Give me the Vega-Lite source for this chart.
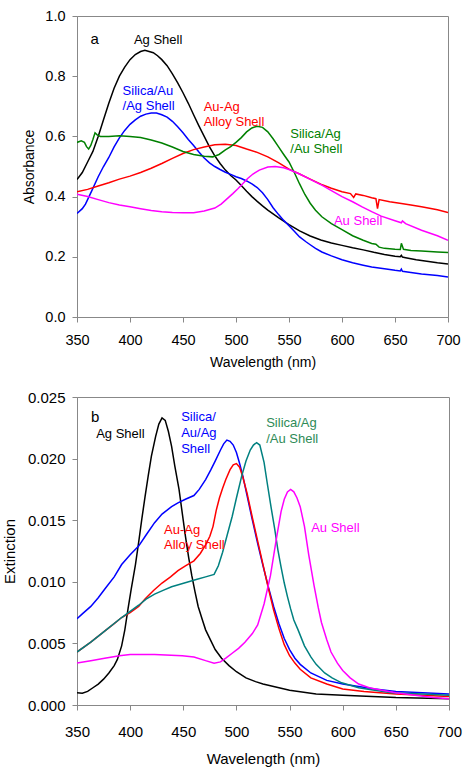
{
"$schema": "https://vega.github.io/schema/vega-lite/v6.json",
"background": "white",
"padding": {"left": 1, "top": 7, "right": 5, "bottom": 0},
"spacing": 19,
"config": {
  "font": "Liberation Sans",
  "view": {"stroke": "#888888", "strokeWidth": 1},
  "axis": {"domainColor": "#888888", "tickColor": "#888888", "grid": false, "labelColor": "#000000", "titleColor": "#000000", "titleFontWeight": "normal", "tickSize": 5, "labelFont": "Liberation Sans", "titleFont": "Liberation Sans", "labelFlush": false, "labelOverlap": false}
},
"resolve": {"scale": {"color": "independent"}},
"datasets": {
"a": [
{"s":"Ag Shell","wl":350,"v":0.457},{"s":"Ag Shell","wl":355,"v":0.48},{"s":"Ag Shell","wl":360,"v":0.515},{"s":"Ag Shell","wl":365,"v":0.55},{"s":"Ag Shell","wl":370,"v":0.6},{"s":"Ag Shell","wl":375,"v":0.655},{"s":"Ag Shell","wl":380,"v":0.71},{"s":"Ag Shell","wl":385,"v":0.76},{"s":"Ag Shell","wl":390,"v":0.8},{"s":"Ag Shell","wl":395,"v":0.83},{"s":"Ag Shell","wl":400,"v":0.855},{"s":"Ag Shell","wl":405,"v":0.872},{"s":"Ag Shell","wl":410,"v":0.882},{"s":"Ag Shell","wl":414,"v":0.886},{"s":"Ag Shell","wl":418,"v":0.882},{"s":"Ag Shell","wl":422,"v":0.878},{"s":"Ag Shell","wl":426,"v":0.868},{"s":"Ag Shell","wl":430,"v":0.855},{"s":"Ag Shell","wl":435,"v":0.835},{"s":"Ag Shell","wl":440,"v":0.808},{"s":"Ag Shell","wl":445,"v":0.778},{"s":"Ag Shell","wl":450,"v":0.745},{"s":"Ag Shell","wl":455,"v":0.71},{"s":"Ag Shell","wl":460,"v":0.672},{"s":"Ag Shell","wl":465,"v":0.635},{"s":"Ag Shell","wl":470,"v":0.6},{"s":"Ag Shell","wl":475,"v":0.565},{"s":"Ag Shell","wl":480,"v":0.535},{"s":"Ag Shell","wl":485,"v":0.51},{"s":"Ag Shell","wl":490,"v":0.488},{"s":"Ag Shell","wl":495,"v":0.47},{"s":"Ag Shell","wl":500,"v":0.455},{"s":"Ag Shell","wl":505,"v":0.437},{"s":"Ag Shell","wl":510,"v":0.418},{"s":"Ag Shell","wl":515,"v":0.4},{"s":"Ag Shell","wl":520,"v":0.384},{"s":"Ag Shell","wl":525,"v":0.369},{"s":"Ag Shell","wl":530,"v":0.355},{"s":"Ag Shell","wl":540,"v":0.33},{"s":"Ag Shell","wl":550,"v":0.307},{"s":"Ag Shell","wl":560,"v":0.286},{"s":"Ag Shell","wl":570,"v":0.269},{"s":"Ag Shell","wl":580,"v":0.256},{"s":"Ag Shell","wl":590,"v":0.246},{"s":"Ag Shell","wl":600,"v":0.238},{"s":"Ag Shell","wl":610,"v":0.23},{"s":"Ag Shell","wl":620,"v":0.223},{"s":"Ag Shell","wl":630,"v":0.215},{"s":"Ag Shell","wl":640,"v":0.208},{"s":"Ag Shell","wl":650,"v":0.202},{"s":"Ag Shell","wl":655,"v":0.2},{"s":"Ag Shell","wl":656,"v":0.205},{"s":"Ag Shell","wl":657,"v":0.199},{"s":"Ag Shell","wl":660,"v":0.197},{"s":"Ag Shell","wl":670,"v":0.19},{"s":"Ag Shell","wl":680,"v":0.185},{"s":"Ag Shell","wl":690,"v":0.18},{"s":"Ag Shell","wl":700,"v":0.176},
{"s":"Silica/Au/Ag Shell","wl":350,"v":0.344},{"s":"Silica/Au/Ag Shell","wl":355,"v":0.36},{"s":"Silica/Au/Ag Shell","wl":358,"v":0.375},{"s":"Silica/Au/Ag Shell","wl":360,"v":0.39},{"s":"Silica/Au/Ag Shell","wl":364,"v":0.42},{"s":"Silica/Au/Ag Shell","wl":370,"v":0.466},{"s":"Silica/Au/Ag Shell","wl":375,"v":0.5},{"s":"Silica/Au/Ag Shell","wl":380,"v":0.53},{"s":"Silica/Au/Ag Shell","wl":385,"v":0.565},{"s":"Silica/Au/Ag Shell","wl":390,"v":0.595},{"s":"Silica/Au/Ag Shell","wl":395,"v":0.62},{"s":"Silica/Au/Ag Shell","wl":400,"v":0.64},{"s":"Silica/Au/Ag Shell","wl":405,"v":0.655},{"s":"Silica/Au/Ag Shell","wl":410,"v":0.667},{"s":"Silica/Au/Ag Shell","wl":415,"v":0.674},{"s":"Silica/Au/Ag Shell","wl":420,"v":0.678},{"s":"Silica/Au/Ag Shell","wl":425,"v":0.678},{"s":"Silica/Au/Ag Shell","wl":430,"v":0.672},{"s":"Silica/Au/Ag Shell","wl":435,"v":0.664},{"s":"Silica/Au/Ag Shell","wl":440,"v":0.65},{"s":"Silica/Au/Ag Shell","wl":445,"v":0.632},{"s":"Silica/Au/Ag Shell","wl":450,"v":0.612},{"s":"Silica/Au/Ag Shell","wl":455,"v":0.59},{"s":"Silica/Au/Ag Shell","wl":460,"v":0.57},{"s":"Silica/Au/Ag Shell","wl":465,"v":0.548},{"s":"Silica/Au/Ag Shell","wl":470,"v":0.528},{"s":"Silica/Au/Ag Shell","wl":475,"v":0.512},{"s":"Silica/Au/Ag Shell","wl":480,"v":0.5},{"s":"Silica/Au/Ag Shell","wl":485,"v":0.49},{"s":"Silica/Au/Ag Shell","wl":490,"v":0.481},{"s":"Silica/Au/Ag Shell","wl":495,"v":0.474},{"s":"Silica/Au/Ag Shell","wl":500,"v":0.466},{"s":"Silica/Au/Ag Shell","wl":505,"v":0.46},{"s":"Silica/Au/Ag Shell","wl":510,"v":0.452},{"s":"Silica/Au/Ag Shell","wl":515,"v":0.442},{"s":"Silica/Au/Ag Shell","wl":520,"v":0.43},{"s":"Silica/Au/Ag Shell","wl":525,"v":0.413},{"s":"Silica/Au/Ag Shell","wl":530,"v":0.39},{"s":"Silica/Au/Ag Shell","wl":535,"v":0.363},{"s":"Silica/Au/Ag Shell","wl":540,"v":0.341},{"s":"Silica/Au/Ag Shell","wl":545,"v":0.321},{"s":"Silica/Au/Ag Shell","wl":550,"v":0.303},{"s":"Silica/Au/Ag Shell","wl":555,"v":0.285},{"s":"Silica/Au/Ag Shell","wl":560,"v":0.266},{"s":"Silica/Au/Ag Shell","wl":566,"v":0.25},{"s":"Silica/Au/Ag Shell","wl":570,"v":0.24},{"s":"Silica/Au/Ag Shell","wl":575,"v":0.228},{"s":"Silica/Au/Ag Shell","wl":581,"v":0.216},{"s":"Silica/Au/Ag Shell","wl":590,"v":0.203},{"s":"Silica/Au/Ag Shell","wl":600,"v":0.19},{"s":"Silica/Au/Ag Shell","wl":610,"v":0.18},{"s":"Silica/Au/Ag Shell","wl":620,"v":0.172},{"s":"Silica/Au/Ag Shell","wl":628,"v":0.166},{"s":"Silica/Au/Ag Shell","wl":640,"v":0.16},{"s":"Silica/Au/Ag Shell","wl":650,"v":0.155},{"s":"Silica/Au/Ag Shell","wl":655,"v":0.153},{"s":"Silica/Au/Ag Shell","wl":656,"v":0.159},{"s":"Silica/Au/Ag Shell","wl":657,"v":0.152},{"s":"Silica/Au/Ag Shell","wl":665,"v":0.148},{"s":"Silica/Au/Ag Shell","wl":675,"v":0.143},{"s":"Silica/Au/Ag Shell","wl":690,"v":0.138},{"s":"Silica/Au/Ag Shell","wl":700,"v":0.133},
{"s":"Au-Ag Alloy Shell","wl":350,"v":0.416},{"s":"Au-Ag Alloy Shell","wl":360,"v":0.424},{"s":"Au-Ag Alloy Shell","wl":370,"v":0.435},{"s":"Au-Ag Alloy Shell","wl":380,"v":0.446},{"s":"Au-Ag Alloy Shell","wl":390,"v":0.458},{"s":"Au-Ag Alloy Shell","wl":400,"v":0.468},{"s":"Au-Ag Alloy Shell","wl":410,"v":0.48},{"s":"Au-Ag Alloy Shell","wl":420,"v":0.494},{"s":"Au-Ag Alloy Shell","wl":430,"v":0.51},{"s":"Au-Ag Alloy Shell","wl":440,"v":0.527},{"s":"Au-Ag Alloy Shell","wl":450,"v":0.543},{"s":"Au-Ag Alloy Shell","wl":460,"v":0.556},{"s":"Au-Ag Alloy Shell","wl":470,"v":0.565},{"s":"Au-Ag Alloy Shell","wl":480,"v":0.572},{"s":"Au-Ag Alloy Shell","wl":490,"v":0.574},{"s":"Au-Ag Alloy Shell","wl":500,"v":0.57},{"s":"Au-Ag Alloy Shell","wl":510,"v":0.558},{"s":"Au-Ag Alloy Shell","wl":520,"v":0.547},{"s":"Au-Ag Alloy Shell","wl":530,"v":0.532},{"s":"Au-Ag Alloy Shell","wl":540,"v":0.513},{"s":"Au-Ag Alloy Shell","wl":550,"v":0.491},{"s":"Au-Ag Alloy Shell","wl":560,"v":0.475},{"s":"Au-Ag Alloy Shell","wl":570,"v":0.458},{"s":"Au-Ag Alloy Shell","wl":580,"v":0.441},{"s":"Au-Ag Alloy Shell","wl":590,"v":0.428},{"s":"Au-Ag Alloy Shell","wl":600,"v":0.416},{"s":"Au-Ag Alloy Shell","wl":608,"v":0.41},{"s":"Au-Ag Alloy Shell","wl":611,"v":0.397},{"s":"Au-Ag Alloy Shell","wl":613,"v":0.409},{"s":"Au-Ag Alloy Shell","wl":620,"v":0.404},{"s":"Au-Ag Alloy Shell","wl":628,"v":0.396},{"s":"Au-Ag Alloy Shell","wl":632,"v":0.393},{"s":"Au-Ag Alloy Shell","wl":633.5,"v":0.36},{"s":"Au-Ag Alloy Shell","wl":635,"v":0.39},{"s":"Au-Ag Alloy Shell","wl":645,"v":0.383},{"s":"Au-Ag Alloy Shell","wl":656,"v":0.377},{"s":"Au-Ag Alloy Shell","wl":665,"v":0.372},{"s":"Au-Ag Alloy Shell","wl":675,"v":0.366},{"s":"Au-Ag Alloy Shell","wl":690,"v":0.356},{"s":"Au-Ag Alloy Shell","wl":700,"v":0.347},
{"s":"Silica/Ag/Au Shell","wl":350,"v":0.58},{"s":"Silica/Ag/Au Shell","wl":354,"v":0.585},{"s":"Silica/Ag/Au Shell","wl":357,"v":0.58},{"s":"Silica/Ag/Au Shell","wl":359,"v":0.566},{"s":"Silica/Ag/Au Shell","wl":361,"v":0.558},{"s":"Silica/Ag/Au Shell","wl":363,"v":0.57},{"s":"Silica/Ag/Au Shell","wl":365,"v":0.59},{"s":"Silica/Ag/Au Shell","wl":367,"v":0.612},{"s":"Silica/Ag/Au Shell","wl":369,"v":0.605},{"s":"Silica/Ag/Au Shell","wl":372,"v":0.6},{"s":"Silica/Ag/Au Shell","wl":380,"v":0.6},{"s":"Silica/Ag/Au Shell","wl":390,"v":0.602},{"s":"Silica/Ag/Au Shell","wl":400,"v":0.6},{"s":"Silica/Ag/Au Shell","wl":410,"v":0.596},{"s":"Silica/Ag/Au Shell","wl":420,"v":0.588},{"s":"Silica/Ag/Au Shell","wl":430,"v":0.578},{"s":"Silica/Ag/Au Shell","wl":440,"v":0.565},{"s":"Silica/Ag/Au Shell","wl":450,"v":0.55},{"s":"Silica/Ag/Au Shell","wl":460,"v":0.54},{"s":"Silica/Ag/Au Shell","wl":470,"v":0.534},{"s":"Silica/Ag/Au Shell","wl":478,"v":0.532},{"s":"Silica/Ag/Au Shell","wl":484,"v":0.54},{"s":"Silica/Ag/Au Shell","wl":490,"v":0.555},{"s":"Silica/Ag/Au Shell","wl":495,"v":0.566},{"s":"Silica/Ag/Au Shell","wl":500,"v":0.58},{"s":"Silica/Ag/Au Shell","wl":505,"v":0.596},{"s":"Silica/Ag/Au Shell","wl":510,"v":0.615},{"s":"Silica/Ag/Au Shell","wl":515,"v":0.628},{"s":"Silica/Ag/Au Shell","wl":520,"v":0.634},{"s":"Silica/Ag/Au Shell","wl":525,"v":0.63},{"s":"Silica/Ag/Au Shell","wl":530,"v":0.615},{"s":"Silica/Ag/Au Shell","wl":535,"v":0.592},{"s":"Silica/Ag/Au Shell","wl":540,"v":0.566},{"s":"Silica/Ag/Au Shell","wl":545,"v":0.54},{"s":"Silica/Ag/Au Shell","wl":550,"v":0.515},{"s":"Silica/Ag/Au Shell","wl":555,"v":0.48},{"s":"Silica/Ag/Au Shell","wl":560,"v":0.442},{"s":"Silica/Ag/Au Shell","wl":565,"v":0.407},{"s":"Silica/Ag/Au Shell","wl":570,"v":0.378},{"s":"Silica/Ag/Au Shell","wl":575,"v":0.355},{"s":"Silica/Ag/Au Shell","wl":581,"v":0.333},{"s":"Silica/Ag/Au Shell","wl":590,"v":0.31},{"s":"Silica/Ag/Au Shell","wl":600,"v":0.29},{"s":"Silica/Ag/Au Shell","wl":610,"v":0.27},{"s":"Silica/Ag/Au Shell","wl":620,"v":0.255},{"s":"Silica/Ag/Au Shell","wl":628,"v":0.244},{"s":"Silica/Ag/Au Shell","wl":632,"v":0.242},{"s":"Silica/Ag/Au Shell","wl":635,"v":0.232},{"s":"Silica/Ag/Au Shell","wl":640,"v":0.228},{"s":"Silica/Ag/Au Shell","wl":650,"v":0.225},{"s":"Silica/Ag/Au Shell","wl":655,"v":0.224},{"s":"Silica/Ag/Au Shell","wl":656,"v":0.245},{"s":"Silica/Ag/Au Shell","wl":658,"v":0.225},{"s":"Silica/Ag/Au Shell","wl":665,"v":0.221},{"s":"Silica/Ag/Au Shell","wl":675,"v":0.219},{"s":"Silica/Ag/Au Shell","wl":690,"v":0.216},{"s":"Silica/Ag/Au Shell","wl":700,"v":0.214},
{"s":"Au Shell","wl":350,"v":0.408},{"s":"Au Shell","wl":360,"v":0.4},{"s":"Au Shell","wl":370,"v":0.39},{"s":"Au Shell","wl":380,"v":0.38},{"s":"Au Shell","wl":390,"v":0.372},{"s":"Au Shell","wl":400,"v":0.366},{"s":"Au Shell","wl":410,"v":0.36},{"s":"Au Shell","wl":420,"v":0.354},{"s":"Au Shell","wl":430,"v":0.35},{"s":"Au Shell","wl":440,"v":0.347},{"s":"Au Shell","wl":450,"v":0.346},{"s":"Au Shell","wl":460,"v":0.346},{"s":"Au Shell","wl":470,"v":0.352},{"s":"Au Shell","wl":480,"v":0.362},{"s":"Au Shell","wl":486,"v":0.375},{"s":"Au Shell","wl":492,"v":0.394},{"s":"Au Shell","wl":497,"v":0.41},{"s":"Au Shell","wl":502,"v":0.427},{"s":"Au Shell","wl":507,"v":0.445},{"s":"Au Shell","wl":511,"v":0.46},{"s":"Au Shell","wl":516,"v":0.475},{"s":"Au Shell","wl":522,"v":0.488},{"s":"Au Shell","wl":530,"v":0.498},{"s":"Au Shell","wl":537,"v":0.5},{"s":"Au Shell","wl":545,"v":0.496},{"s":"Au Shell","wl":550,"v":0.49},{"s":"Au Shell","wl":560,"v":0.475},{"s":"Au Shell","wl":570,"v":0.457},{"s":"Au Shell","wl":581,"v":0.438},{"s":"Au Shell","wl":590,"v":0.42},{"s":"Au Shell","wl":600,"v":0.4},{"s":"Au Shell","wl":610,"v":0.383},{"s":"Au Shell","wl":619,"v":0.366},{"s":"Au Shell","wl":628,"v":0.35},{"s":"Au Shell","wl":637,"v":0.335},{"s":"Au Shell","wl":650,"v":0.32},{"s":"Au Shell","wl":656,"v":0.313},{"s":"Au Shell","wl":657,"v":0.319},{"s":"Au Shell","wl":660,"v":0.31},{"s":"Au Shell","wl":675,"v":0.288},{"s":"Au Shell","wl":690,"v":0.27},{"s":"Au Shell","wl":700,"v":0.255}
],
"b": [
{"s":"Ag Shell","wl":350,"v":0.001},{"s":"Ag Shell","wl":355,"v":0.00095},{"s":"Ag Shell","wl":360,"v":0.0011},{"s":"Ag Shell","wl":365,"v":0.0014},{"s":"Ag Shell","wl":370,"v":0.0017},{"s":"Ag Shell","wl":375,"v":0.0021},{"s":"Ag Shell","wl":380,"v":0.0026},{"s":"Ag Shell","wl":385,"v":0.0032},{"s":"Ag Shell","wl":388,"v":0.0037},{"s":"Ag Shell","wl":392,"v":0.0048},{"s":"Ag Shell","wl":395,"v":0.0061},{"s":"Ag Shell","wl":398,"v":0.0078},{"s":"Ag Shell","wl":401,"v":0.0094},{"s":"Ag Shell","wl":405,"v":0.0114},{"s":"Ag Shell","wl":408,"v":0.0132},{"s":"Ag Shell","wl":411,"v":0.0151},{"s":"Ag Shell","wl":414,"v":0.0169},{"s":"Ag Shell","wl":417,"v":0.0186},{"s":"Ag Shell","wl":420,"v":0.0202},{"s":"Ag Shell","wl":424,"v":0.0218},{"s":"Ag Shell","wl":427,"v":0.0228},{"s":"Ag Shell","wl":430,"v":0.0233},{"s":"Ag Shell","wl":433,"v":0.0231},{"s":"Ag Shell","wl":436,"v":0.0222},{"s":"Ag Shell","wl":439,"v":0.021},{"s":"Ag Shell","wl":442,"v":0.0194},{"s":"Ag Shell","wl":446,"v":0.0175},{"s":"Ag Shell","wl":449,"v":0.0156},{"s":"Ag Shell","wl":452,"v":0.0137},{"s":"Ag Shell","wl":455,"v":0.012},{"s":"Ag Shell","wl":458,"v":0.0105},{"s":"Ag Shell","wl":461,"v":0.0092},{"s":"Ag Shell","wl":464,"v":0.008},{"s":"Ag Shell","wl":468,"v":0.0069},{"s":"Ag Shell","wl":471,"v":0.0061},{"s":"Ag Shell","wl":476,"v":0.0052},{"s":"Ag Shell","wl":480,"v":0.0045},{"s":"Ag Shell","wl":486,"v":0.0038},{"s":"Ag Shell","wl":493,"v":0.0032},{"s":"Ag Shell","wl":500,"v":0.0027},{"s":"Ag Shell","wl":509,"v":0.0022},{"s":"Ag Shell","wl":518,"v":0.0019},{"s":"Ag Shell","wl":525,"v":0.0017},{"s":"Ag Shell","wl":535,"v":0.0015},{"s":"Ag Shell","wl":550,"v":0.0012},{"s":"Ag Shell","wl":575,"v":0.0009},{"s":"Ag Shell","wl":600,"v":0.0008},{"s":"Ag Shell","wl":650,"v":0.0006},{"s":"Ag Shell","wl":700,"v":0.0005},
{"s":"Silica/Au/Ag Shell","wl":350,"v":0.007},{"s":"Silica/Au/Ag Shell","wl":355,"v":0.0074},{"s":"Silica/Au/Ag Shell","wl":363,"v":0.008},{"s":"Silica/Au/Ag Shell","wl":370,"v":0.0087},{"s":"Silica/Au/Ag Shell","wl":376,"v":0.0094},{"s":"Silica/Au/Ag Shell","wl":385,"v":0.0104},{"s":"Silica/Au/Ag Shell","wl":392,"v":0.0114},{"s":"Silica/Au/Ag Shell","wl":400,"v":0.0122},{"s":"Silica/Au/Ag Shell","wl":408,"v":0.0129},{"s":"Silica/Au/Ag Shell","wl":415,"v":0.0138},{"s":"Silica/Au/Ag Shell","wl":423,"v":0.0148},{"s":"Silica/Au/Ag Shell","wl":430,"v":0.0155},{"s":"Silica/Au/Ag Shell","wl":439,"v":0.0161},{"s":"Silica/Au/Ag Shell","wl":445,"v":0.0164},{"s":"Silica/Au/Ag Shell","wl":452,"v":0.0167},{"s":"Silica/Au/Ag Shell","wl":460,"v":0.017},{"s":"Silica/Au/Ag Shell","wl":465,"v":0.0175},{"s":"Silica/Au/Ag Shell","wl":471,"v":0.0183},{"s":"Silica/Au/Ag Shell","wl":476,"v":0.0191},{"s":"Silica/Au/Ag Shell","wl":480,"v":0.0198},{"s":"Silica/Au/Ag Shell","wl":485,"v":0.0207},{"s":"Silica/Au/Ag Shell","wl":488,"v":0.0212},{"s":"Silica/Au/Ag Shell","wl":491,"v":0.0215},{"s":"Silica/Au/Ag Shell","wl":494,"v":0.0214},{"s":"Silica/Au/Ag Shell","wl":497,"v":0.0211},{"s":"Silica/Au/Ag Shell","wl":500,"v":0.0205},{"s":"Silica/Au/Ag Shell","wl":503,"v":0.0196},{"s":"Silica/Au/Ag Shell","wl":506,"v":0.0186},{"s":"Silica/Au/Ag Shell","wl":510,"v":0.017},{"s":"Silica/Au/Ag Shell","wl":515,"v":0.015},{"s":"Silica/Au/Ag Shell","wl":520,"v":0.0131},{"s":"Silica/Au/Ag Shell","wl":525,"v":0.0113},{"s":"Silica/Au/Ag Shell","wl":530,"v":0.0096},{"s":"Silica/Au/Ag Shell","wl":535,"v":0.008},{"s":"Silica/Au/Ag Shell","wl":540,"v":0.0066},{"s":"Silica/Au/Ag Shell","wl":545,"v":0.0054},{"s":"Silica/Au/Ag Shell","wl":550,"v":0.0045},{"s":"Silica/Au/Ag Shell","wl":555,"v":0.0038},{"s":"Silica/Au/Ag Shell","wl":560,"v":0.0033},{"s":"Silica/Au/Ag Shell","wl":570,"v":0.0026},{"s":"Silica/Au/Ag Shell","wl":585,"v":0.002},{"s":"Silica/Au/Ag Shell","wl":600,"v":0.0017},{"s":"Silica/Au/Ag Shell","wl":615,"v":0.0015},{"s":"Silica/Au/Ag Shell","wl":630,"v":0.0013},{"s":"Silica/Au/Ag Shell","wl":650,"v":0.0011},{"s":"Silica/Au/Ag Shell","wl":675,"v":0.001},{"s":"Silica/Au/Ag Shell","wl":700,"v":0.0009},
{"s":"Au-Ag Alloy Shell","wl":350,"v":0.0043},{"s":"Au-Ag Alloy Shell","wl":363,"v":0.0051},{"s":"Au-Ag Alloy Shell","wl":376,"v":0.006},{"s":"Au-Ag Alloy Shell","wl":385,"v":0.0066},{"s":"Au-Ag Alloy Shell","wl":392,"v":0.0071},{"s":"Au-Ag Alloy Shell","wl":400,"v":0.0075},{"s":"Au-Ag Alloy Shell","wl":408,"v":0.008},{"s":"Au-Ag Alloy Shell","wl":414,"v":0.0086},{"s":"Au-Ag Alloy Shell","wl":422,"v":0.0093},{"s":"Au-Ag Alloy Shell","wl":430,"v":0.0099},{"s":"Au-Ag Alloy Shell","wl":438,"v":0.0104},{"s":"Au-Ag Alloy Shell","wl":445,"v":0.0109},{"s":"Au-Ag Alloy Shell","wl":452,"v":0.0113},{"s":"Au-Ag Alloy Shell","wl":460,"v":0.0117},{"s":"Au-Ag Alloy Shell","wl":466,"v":0.0123},{"s":"Au-Ag Alloy Shell","wl":471,"v":0.013},{"s":"Au-Ag Alloy Shell","wl":475,"v":0.0137},{"s":"Au-Ag Alloy Shell","wl":478,"v":0.0145},{"s":"Au-Ag Alloy Shell","wl":481,"v":0.0158},{"s":"Au-Ag Alloy Shell","wl":484,"v":0.0168},{"s":"Au-Ag Alloy Shell","wl":487,"v":0.0176},{"s":"Au-Ag Alloy Shell","wl":490,"v":0.0183},{"s":"Au-Ag Alloy Shell","wl":494,"v":0.0191},{"s":"Au-Ag Alloy Shell","wl":497,"v":0.0195},{"s":"Au-Ag Alloy Shell","wl":500,"v":0.0196},{"s":"Au-Ag Alloy Shell","wl":503,"v":0.0193},{"s":"Au-Ag Alloy Shell","wl":506,"v":0.0185},{"s":"Au-Ag Alloy Shell","wl":510,"v":0.0172},{"s":"Au-Ag Alloy Shell","wl":515,"v":0.0152},{"s":"Au-Ag Alloy Shell","wl":520,"v":0.0133},{"s":"Au-Ag Alloy Shell","wl":525,"v":0.0114},{"s":"Au-Ag Alloy Shell","wl":530,"v":0.0095},{"s":"Au-Ag Alloy Shell","wl":535,"v":0.0077},{"s":"Au-Ag Alloy Shell","wl":540,"v":0.0062},{"s":"Au-Ag Alloy Shell","wl":545,"v":0.0049},{"s":"Au-Ag Alloy Shell","wl":550,"v":0.004},{"s":"Au-Ag Alloy Shell","wl":555,"v":0.0034},{"s":"Au-Ag Alloy Shell","wl":560,"v":0.0029},{"s":"Au-Ag Alloy Shell","wl":570,"v":0.0022},{"s":"Au-Ag Alloy Shell","wl":585,"v":0.0017},{"s":"Au-Ag Alloy Shell","wl":600,"v":0.0013},{"s":"Au-Ag Alloy Shell","wl":620,"v":0.0011},{"s":"Au-Ag Alloy Shell","wl":650,"v":0.0009},{"s":"Au-Ag Alloy Shell","wl":675,"v":0.0008},{"s":"Au-Ag Alloy Shell","wl":700,"v":0.0007},
{"s":"Silica/Ag/Au Shell","wl":350,"v":0.0043},{"s":"Silica/Ag/Au Shell","wl":363,"v":0.0051},{"s":"Silica/Ag/Au Shell","wl":376,"v":0.006},{"s":"Silica/Ag/Au Shell","wl":392,"v":0.0071},{"s":"Silica/Ag/Au Shell","wl":400,"v":0.0076},{"s":"Silica/Ag/Au Shell","wl":408,"v":0.0081},{"s":"Silica/Ag/Au Shell","wl":415,"v":0.0086},{"s":"Silica/Ag/Au Shell","wl":423,"v":0.009},{"s":"Silica/Ag/Au Shell","wl":431,"v":0.0093},{"s":"Silica/Ag/Au Shell","wl":439,"v":0.0096},{"s":"Silica/Ag/Au Shell","wl":447,"v":0.0098},{"s":"Silica/Ag/Au Shell","wl":455,"v":0.01},{"s":"Silica/Ag/Au Shell","wl":463,"v":0.0102},{"s":"Silica/Ag/Au Shell","wl":471,"v":0.0104},{"s":"Silica/Ag/Au Shell","wl":479,"v":0.0106},{"s":"Silica/Ag/Au Shell","wl":483,"v":0.0113},{"s":"Silica/Ag/Au Shell","wl":487,"v":0.0124},{"s":"Silica/Ag/Au Shell","wl":491,"v":0.0137},{"s":"Silica/Ag/Au Shell","wl":496,"v":0.0153},{"s":"Silica/Ag/Au Shell","wl":500,"v":0.0168},{"s":"Silica/Ag/Au Shell","wl":505,"v":0.0186},{"s":"Silica/Ag/Au Shell","wl":509,"v":0.0198},{"s":"Silica/Ag/Au Shell","wl":513,"v":0.0207},{"s":"Silica/Ag/Au Shell","wl":516,"v":0.0211},{"s":"Silica/Ag/Au Shell","wl":519,"v":0.0213},{"s":"Silica/Ag/Au Shell","wl":522,"v":0.0211},{"s":"Silica/Ag/Au Shell","wl":526,"v":0.0197},{"s":"Silica/Ag/Au Shell","wl":529,"v":0.018},{"s":"Silica/Ag/Au Shell","wl":532.5,"v":0.0161},{"s":"Silica/Ag/Au Shell","wl":536,"v":0.0143},{"s":"Silica/Ag/Au Shell","wl":539,"v":0.0126},{"s":"Silica/Ag/Au Shell","wl":542,"v":0.0112},{"s":"Silica/Ag/Au Shell","wl":545,"v":0.0099},{"s":"Silica/Ag/Au Shell","wl":548,"v":0.0088},{"s":"Silica/Ag/Au Shell","wl":551,"v":0.0078},{"s":"Silica/Ag/Au Shell","wl":554,"v":0.0069},{"s":"Silica/Ag/Au Shell","wl":558,"v":0.0061},{"s":"Silica/Ag/Au Shell","wl":564,"v":0.0048},{"s":"Silica/Ag/Au Shell","wl":570,"v":0.0039},{"s":"Silica/Ag/Au Shell","wl":575,"v":0.0033},{"s":"Silica/Ag/Au Shell","wl":583,"v":0.0026},{"s":"Silica/Ag/Au Shell","wl":590,"v":0.0022},{"s":"Silica/Ag/Au Shell","wl":599,"v":0.0018},{"s":"Silica/Ag/Au Shell","wl":615,"v":0.0014},{"s":"Silica/Ag/Au Shell","wl":630,"v":0.0012},{"s":"Silica/Ag/Au Shell","wl":646,"v":0.001},{"s":"Silica/Ag/Au Shell","wl":675,"v":0.0009},{"s":"Silica/Ag/Au Shell","wl":700,"v":0.0008},
{"s":"Au Shell","wl":350,"v":0.0034},{"s":"Au Shell","wl":363,"v":0.0036},{"s":"Au Shell","wl":376,"v":0.0038},{"s":"Au Shell","wl":390,"v":0.004},{"s":"Au Shell","wl":400,"v":0.0041},{"s":"Au Shell","wl":423,"v":0.0041},{"s":"Au Shell","wl":449,"v":0.004},{"s":"Au Shell","wl":460,"v":0.0039},{"s":"Au Shell","wl":471,"v":0.0036},{"s":"Au Shell","wl":479,"v":0.0034},{"s":"Au Shell","wl":485,"v":0.0035},{"s":"Au Shell","wl":490,"v":0.0038},{"s":"Au Shell","wl":496,"v":0.0042},{"s":"Au Shell","wl":502,"v":0.0046},{"s":"Au Shell","wl":508,"v":0.0051},{"s":"Au Shell","wl":515,"v":0.0058},{"s":"Au Shell","wl":520,"v":0.0065},{"s":"Au Shell","wl":526,"v":0.0082},{"s":"Au Shell","wl":532,"v":0.0105},{"s":"Au Shell","wl":538,"v":0.0137},{"s":"Au Shell","wl":542,"v":0.0157},{"s":"Au Shell","wl":545,"v":0.0167},{"s":"Au Shell","wl":548,"v":0.0173},{"s":"Au Shell","wl":551,"v":0.0175},{"s":"Au Shell","wl":554,"v":0.0173},{"s":"Au Shell","wl":557,"v":0.0168},{"s":"Au Shell","wl":560,"v":0.0161},{"s":"Au Shell","wl":564,"v":0.0145},{"s":"Au Shell","wl":568,"v":0.0122},{"s":"Au Shell","wl":573,"v":0.0097},{"s":"Au Shell","wl":577,"v":0.0079},{"s":"Au Shell","wl":580,"v":0.0067},{"s":"Au Shell","wl":585,"v":0.0053},{"s":"Au Shell","wl":589,"v":0.0043},{"s":"Au Shell","wl":595,"v":0.0034},{"s":"Au Shell","wl":600,"v":0.0028},{"s":"Au Shell","wl":607,"v":0.0022},{"s":"Au Shell","wl":615,"v":0.0017},{"s":"Au Shell","wl":625,"v":0.0014},{"s":"Au Shell","wl":637,"v":0.0012},{"s":"Au Shell","wl":650,"v":0.001},{"s":"Au Shell","wl":668,"v":0.0008},{"s":"Au Shell","wl":685,"v":0.0006},{"s":"Au Shell","wl":700,"v":0.0005}
],
"la": [
{"t":"Ag Shell","wl":403.7,"v":0.919,"s":"Ag Shell"},
{"t":"Silica/Au","wl":393,"v":0.751,"s":"Silica/Au/Ag Shell"},
{"t":"/Ag Shell","wl":393,"v":0.70,"s":"Silica/Au/Ag Shell"},
{"t":"Au-Ag","wl":469.5,"v":0.697,"s":"Au-Ag Alloy Shell"},
{"t":"Alloy Shell","wl":469.5,"v":0.647,"s":"Au-Ag Alloy Shell"},
{"t":"Silica/Ag","wl":551.2,"v":0.607,"s":"Silica/Ag/Au Shell"},
{"t":"/Au Shell","wl":551.2,"v":0.557,"s":"Silica/Ag/Au Shell"},
{"t":"Au Shell","wl":592.4,"v":0.319,"s":"Au Shell"}
],
"pa": [{"t":"a","wl":362.8,"v":0.9226,"s":"letter"}],
"lb": [
{"t":"Ag Shell","wl":368,"v":0.0220,"s":"Ag Shell"},
{"t":"Silica/","wl":448,"v":0.02335,"s":"Silica/Au/Ag Shell"},
{"t":"Au/Ag","wl":448,"v":0.02208,"s":"Silica/Au/Ag Shell"},
{"t":"Shell","wl":448,"v":0.02081,"s":"Silica/Au/Ag Shell"},
{"t":"Silica/Ag","wl":528,"v":0.02286,"s":"Silica/Ag/Au label"},
{"t":"/Au Shell","wl":528,"v":0.02162,"s":"Silica/Ag/Au label"},
{"t":"Au-Ag","wl":431.9,"v":0.01419,"s":"Au-Ag Alloy Shell"},
{"t":"Alloy Shell","wl":431.9,"v":0.01297,"s":"Au-Ag Alloy Shell"},
{"t":"Au Shell","wl":570.3,"v":0.01438,"s":"Au Shell"}
],
"pb": [{"t":"b","wl":363.1,"v":0.02338,"s":"letter"}]
},
"vconcat": [
{
 "width": 371, "height": 301,
 "encoding": {
  "x": {"field": "wl", "type": "quantitative", "scale": {"domain": [350, 700], "nice": false, "zero": false},
        "axis": {"values": [350,400,450,500,550,600,650,700], "labelFontSize": 14.5, "labelPadding": 11, "title": "Wavelength (nm)", "titleFontSize": 14, "titlePadding": 9}},
  "y": {"field": "v", "type": "quantitative", "scale": {"domain": [0, 1], "nice": false},
        "axis": {"values": [0,0.2,0.4,0.6,0.8,1.0], "format": ".1f", "labelFontSize": 14.5, "labelPadding": 7, "title": "Absorbance", "titleFontSize": 14, "titlePadding": 8}},
  "color": {"field": "s", "type": "nominal", "legend": null,
            "scale": {"domain": ["Ag Shell","Silica/Au/Ag Shell","Au-Ag Alloy Shell","Silica/Ag/Au Shell","Au Shell","letter"],
                      "range": ["#000000","#0000ff","#ff0000","#008000","#ff00ff","#000000"]}}
 },
 "layer": [
  {"data": {"name": "a"}, "mark": {"type": "line", "strokeWidth": 1.5, "clip": true}},
  {"data": {"name": "la"}, "mark": {"type": "text", "align": "left", "baseline": "middle", "fontSize": 13}, "encoding": {"text": {"field": "t"}}},
  {"data": {"name": "pa"}, "mark": {"type": "text", "align": "left", "baseline": "middle", "fontSize": 15}, "encoding": {"text": {"field": "t"}}}
 ]
},
{
 "width": 372, "height": 308,
 "encoding": {
  "x": {"field": "wl", "type": "quantitative", "scale": {"domain": [350, 700], "nice": false, "zero": false},
        "axis": {"values": [350,400,450,500,550,600,650,700], "labelFontSize": 15, "labelPadding": 14, "title": "Wavelength (nm)", "titleFontSize": 15, "titlePadding": 12}},
  "y": {"field": "v", "type": "quantitative", "scale": {"domain": [0, 0.025], "nice": false},
        "axis": {"values": [0,0.005,0.01,0.015,0.02,0.025], "format": ".3f", "labelFontSize": 15, "labelPadding": 7, "title": "Extinction", "titleFontSize": 15, "titlePadding": 10}},
  "color": {"field": "s", "type": "nominal", "legend": null,
            "scale": {"domain": ["Ag Shell","Silica/Au/Ag Shell","Au-Ag Alloy Shell","Silica/Ag/Au Shell","Au Shell","letter","Silica/Ag/Au label"],
                      "range": ["#000000","#0000ff","#ff0000","#008080","#ff00ff","#000000","#2e8b57"]}}
 },
 "layer": [
  {"data": {"name": "b"}, "mark": {"type": "line", "strokeWidth": 1.5, "clip": true}},
  {"data": {"name": "lb"}, "mark": {"type": "text", "align": "left", "baseline": "middle", "fontSize": 13}, "encoding": {"text": {"field": "t"}}},
  {"data": {"name": "pb"}, "mark": {"type": "text", "align": "left", "baseline": "middle", "fontSize": 15}, "encoding": {"text": {"field": "t"}}}
 ]
}
]
}
